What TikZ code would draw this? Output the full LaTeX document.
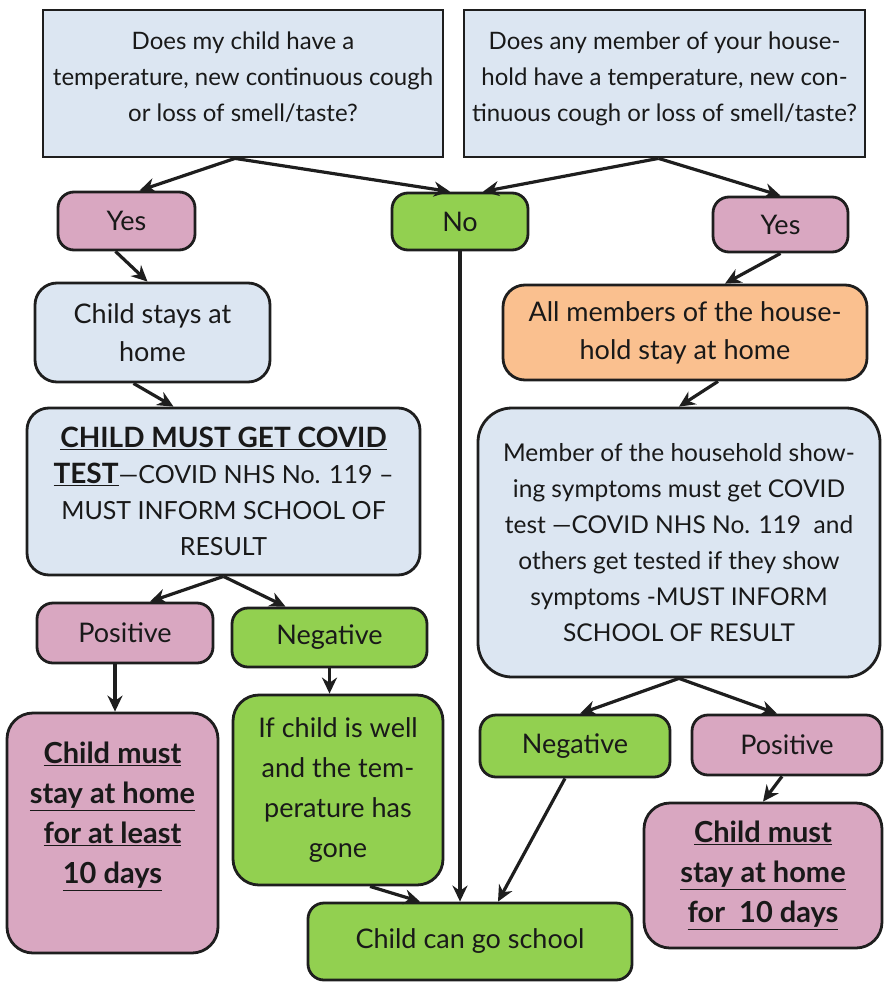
\documentclass[tikz,border=0pt]{standalone}
\usepackage{fontspec}
\setmainfont{Lato}
\usetikzlibrary{arrows.meta}
\definecolor{askblue}{HTML}{DCE6F2}
\definecolor{yespink}{HTML}{D9A7C1}
\definecolor{nogreen}{HTML}{92D050}
\definecolor{homeorange}{HTML}{FAC08F}
\definecolor{edge}{HTML}{1E1E1E}
\tikzstyle{every node}=[draw=edge,line width=2.8pt,align=center,inner sep=0pt,text=black!90,font=\fontsize{27}{38}\selectfont]
\tikzstyle{ask}=[fill=askblue,font=\fontsize{24}{36}\selectfont]
\tikzstyle{info}=[fill=askblue,rounded corners=22pt]
\tikzstyle{yesbox}=[fill=yespink,rounded corners=16pt]
\tikzstyle{nobox}=[fill=nogreen,rounded corners=16pt]
\tikzstyle{homebox}=[fill=homeorange,rounded corners=22pt]
\tikzstyle{stayhome}=[yesbox,rounded corners=26pt,font=\fontsize{29}{40}\selectfont\bfseries]
\tikzstyle{arr}=[draw=edge,line width=3.2pt,-{Stealth[length=16pt,width=15pt]}]

\begin{document}
\begin{tikzpicture}[x=1pt,y=-1pt]
    \useasboundingbox (0,0) rectangle (883,982);
    % questions
    \node [ask,minimum width=400,minimum height=147] (q1) at (243,83.5)
        {Does my child have a\\temperature, new continuous cough\\or loss of smell/taste?\rule[-14pt]{0pt}{14pt}};
    \node [ask,minimum width=401,minimum height=147] (q2) at (664.5,83.5)
        {Does any member of your house-\\hold have a temperature, new con-\\tinuous cough or loss of smell/taste?\rule[-14pt]{0pt}{14pt}};
    % answers
    \node [yesbox,minimum width=137,minimum height=58] (yesL) at (126.5,221) {Yes};
    \node [nobox,minimum width=136,minimum height=57] (no) at (460,221.5) {No};
    \node [yesbox,minimum width=135,minimum height=55] (yesR) at (780.5,224.5) {Yes};
    % child branch
    \node [info,minimum width=235,minimum height=99] (stays) at (152.5,332.5) {Child stays at\\home};
    \node [info,minimum width=393,minimum height=167,font=\fontsize{25}{36}\selectfont] (test) at (223.5,491.5)
        {{\fontsize{28}{36}\selectfont\underline{\textbf{CHILD MUST GET COVID}}}\\{\fontsize{28}{36}\selectfont\underline{\textbf{TEST}}}—COVID NHS No. 119 –\\MUST INFORM SCHOOL OF\\RESULT};
    \node [yesbox,minimum width=176,minimum height=60] (posL) at (125,633) {Positive};
    \node [nobox,minimum width=195,minimum height=59] (negL) at (329.5,637.5) {Negative};
    \node [stayhome,minimum width=211,minimum height=240] (homeL) at (112.5,833)
        {\underline{Child must}\\\underline{stay at home}\\\underline{for at least}\\\underline{10 days}\rule[-40pt]{0pt}{40pt}};
    \node [nobox,minimum width=210,minimum height=190,rounded corners=26pt,font=\fontsize{27}{40}\selectfont] (well) at (338,790)
        {If child is well\\and the tem-\\perature has\\gone};
    % household branch
    \node [homebox,minimum width=364,minimum height=95] (allm) at (685,332.5) {All members of the house-\\hold stay at home};
    \node [info,minimum width=402,minimum height=269,rounded corners=34pt,font=\fontsize{24.5}{36}\selectfont] (memb) at (679,542.5)
        {Member of the household show-\\ing symptoms must get COVID\\test —COVID NHS No. 119~ and\\others get tested if they show\\symptoms -MUST INFORM\\SCHOOL OF RESULT};
    \node [nobox,minimum width=190,minimum height=62] (negR) at (575,746) {Negative};
    \node [yesbox,minimum width=190,minimum height=60] (posR) at (787,745) {Positive};
    \node [stayhome,minimum width=238,minimum height=145] (homeR) at (763,875.5)
        {\underline{Child must}\\\underline{stay at home}\\\underline{for~ 10 days}};
    % end
    \node [nobox,minimum width=324,minimum height=77] (school) at (470,941.5) {Child can go school};

    \draw [arr] ([xshift=-8]q1.south) -- ([xshift=13]yesL.north);
    \draw [arr] ([xshift=-8]q1.south) -- ([xshift=-10]no.north);
    \draw [arr] ([xshift=-6]q2.south) -- ([xshift=23]no.north);
    \draw [arr] ([xshift=-6]q2.south) -- (yesR.north);
    \draw [arr] ([xshift=-11]yesL.south) -- ([xshift=-5]stays.north);
    \draw [arr] ([xshift=-19]stays.south) -- ([xshift=-50]test.north);
    \draw [arr] (test.south) -- ([xshift=25]posL.north);
    \draw [arr] (test.south) -- ([xshift=-44]negL.north);
    \draw [arr] ([xshift=-10]posL.south) -- ([xshift=-10]posL.south |- homeL.north);
    \draw [arr] (negL.south) -- (negL.south |- well.north);
    \draw [arr] ([xshift=32]well.south) -- ([xshift=-50]school.north);
    \draw [arr] (no.south) -- (no.south |- school.north);
    \draw [arr] (yesR.south) -- ([xshift=40]allm.north);
    \draw [arr] ([xshift=33]allm.south) -- (memb.north);
    \draw [arr] (memb.south) -- ([xshift=5]negR.north);
    \draw [arr] (memb.south) -- ([xshift=-10]posR.north);
    \draw [arr] ([xshift=-10]negR.south) -- ([xshift=28]school.north);
    \draw [arr] ([xshift=-5]posR.south) -- (homeR.north);
\end{tikzpicture}
\end{document}
